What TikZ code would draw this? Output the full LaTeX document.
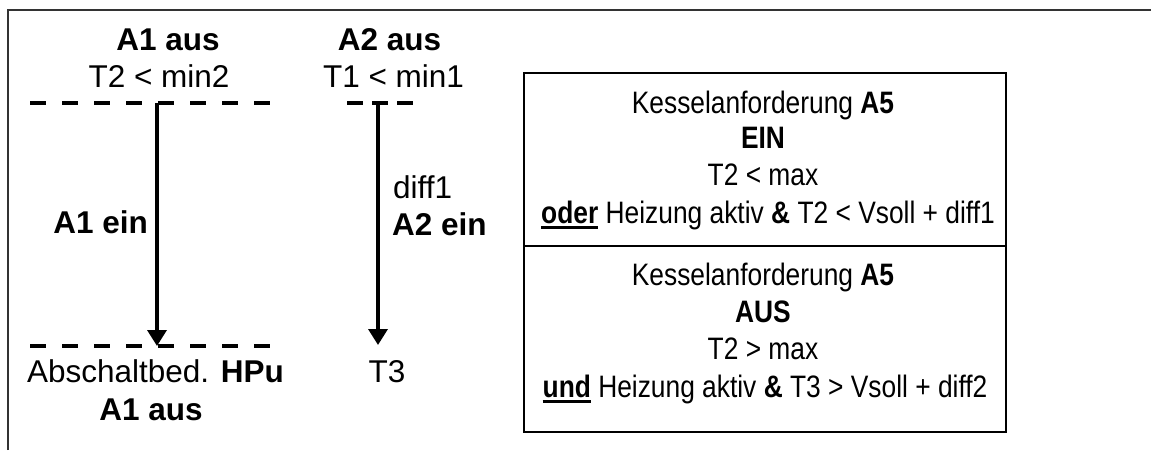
\documentclass[tikz,border=0pt]{standalone}
\usepackage{fontspec}
\setmainfont{Liberation Sans}
\newfontfamily\boxfont[FakeStretch=0.85]{Liberation Sans}
\usetikzlibrary{arrows.meta}
\newcommand\myul[1]{\setbox0\hbox{#1}\rlap{\rule[-6pt]{\wd0}{2.8pt}}\box0\relax}
\begin{document}
\begin{tikzpicture}[x=1pt,y=-1pt,
  lt/.style={font=\fontsize{31.5}{36}\selectfont, inner sep=0pt, anchor=base},
  bt/.style={font=\boxfont\fontsize{31}{36}\selectfont, inner sep=0pt, anchor=base},
  dline/.style={line width=3.5pt, dash pattern=on 16pt off 16pt},
  arr/.style={line width=3.5pt, -{Triangle[length=16pt,width=19pt]}},
  frame/.style={line width=2pt, black!80},
  boxline/.style={line width=2pt}]
\useasboundingbox (0,0) rectangle (1151,450);
% outer frame
\coordinate (fb) at (8,450);
\coordinate (fc) at (8,10);
\coordinate (fr) at (1151,10);
\draw[frame] (fb) -- (fc) -- (fr);
% left column texts
\node[lt] (t1) at (168,50) {\textbf{A1 aus}};
\node[lt] (t2) at (159,87) {T2 < min2};
\node[lt] (t3) at (389.5,50) {\textbf{A2 aus}};
\node[lt] (t4) at (393.5,87) {T1 < min1};
\node[lt, anchor=base east] (t5) at (148,233) {\textbf{A1 ein}};
\node[lt, anchor=base west] (t6) at (393,198) {diff1};
\node[lt, anchor=base west] (t7) at (392,235) {\textbf{A2 ein}};
\node[lt] (t8) at (155.5,382) {Abschaltbed. \textbf{HPu}};
\node[lt] (t9) at (151,420) {\textbf{A1 aus}};
\node[lt] (t10) at (387,382) {T3};
% dashed lines
\coordinate (d1a) at (30,103);
\coordinate (d1b) at (270,103);
\coordinate (d2a) at (347,103);
\coordinate (d2b) at (413,103);
\coordinate (d3a) at (30,346);
\coordinate (d3b) at (270,346);
\draw[dline] (d1a) -- (d1b);
\draw[line width=3.5pt, dash pattern=on 16pt off 9pt] (d2a) -- (d2b);
\draw[dline] (d3a) -- (d3b);
% arrows
\coordinate (a1s) at (157,103);
\coordinate (a1e) at (157,346);
\coordinate (a2s) at (378,103);
\coordinate (a2e) at (378,345);
\draw[arr] (a1s) -- (a1e);
\draw[arr] (a2s) -- (a2e);
% box
\coordinate (b1) at (524,73);
\coordinate (b2) at (1006,432);
\coordinate (m1) at (524,246);
\coordinate (m2) at (1006,246);
\draw[boxline] (b1) rectangle (b2);
\draw[boxline] (m1) -- (m2);
\node[bt] (k1) at (763,113) {Kesselanforderung \textbf{A5}};
\node[bt] (k2) at (763,148) {\textbf{EIN}};
\node[bt] (k3) at (763,185) {T2 < max};
\node[bt] (k4) at (768,223) {\myul{\textbf{oder}} Heizung aktiv \textbf{\&} T2 < Vsoll + diff1};
\node[bt] (k5) at (763,285) {Kesselanforderung \textbf{A5}};
\node[bt] (k6) at (763,322) {\textbf{AUS}};
\node[bt] (k7) at (763,359) {T2 > max};
\node[bt] (k8) at (765,397) {\myul{\textbf{und}} Heizung aktiv \textbf{\&} T3 > Vsoll + diff2};
\end{tikzpicture}
\end{document}
